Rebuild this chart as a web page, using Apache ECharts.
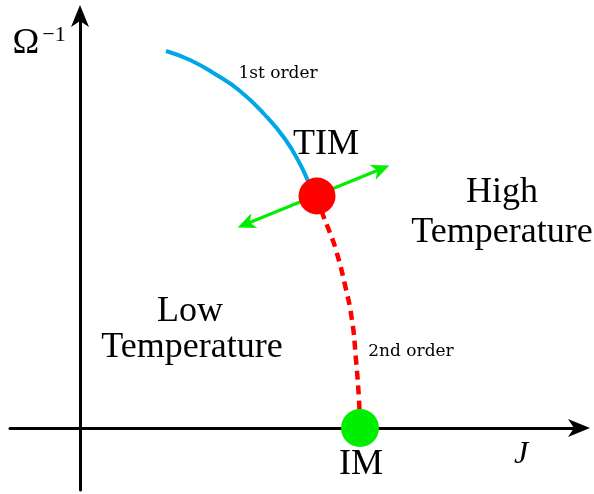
<!DOCTYPE html>
<html>
<head>
<meta charset="utf-8">
<script src="https://cdn.jsdelivr.net/npm/echarts@6/dist/echarts.min.js"></script>
<style>html,body{margin:0;padding:0;background:#fff;}#c{width:594px;height:494px;}</style>
</head>
<body>
<div id="c"></div>
<script>
// Phase boundary lines (J, 1/Omega) in arbitrary units
var firstOrderLine = [[8.6,37.7],[11.0,36.8],[13.5,35.4],[16.0,33.7],[18.5,31.3],[20.5,28.9],[22.0,26.4],[23.0,24.3],[23.4,23.6]];
var secondOrderLine = [[23.7,23.2],[24.3,21.3],[25.0,19.5],[25.6,17.8],[26.5,14.3],[27.2,10.8],[27.6,6.8],[27.9,2.8],[28.0,0]];
var timPoint = [23.7, 23.2];
var imPoint = [28.0, 0];
var flowArrow = [[16.6, 20.4], [30.1, 25.9]];
// annotation texts and anchor positions
var bigLabels = [
  {name:'TIM', value:[24.6, 28.3]},
  {name:'High', value:[42.2, 23.5]},
  {name:'Temperature', value:[42.2, 19.5]},
  {name:'Low', value:[11.0, 11.6]},
  {name:'Temperature', value:[11.2, 8.0]},
  {name:'IM', value:[28.1, -3.7]},
  {name:'Ω', value:[-5.4, 38.45]}
];
var smallLabels = [
  {name:'1st order', value:[19.8, 35.4]},
  {name:'2nd order', value:[33.1, 7.6]}
];
var supLabels = [{name:'−1', value:[-2.6, 39.3]}];
var italicLabels = [{name:'J', value:[44.1, -2.7]}];

var arrowPath = 'path://M9,0 L18,22 L9,16 L0,22 Z';
var smallArrow = 'path://M8,0 L16,18 L8,13 L0,18 Z';

var chart = echarts.init(document.getElementById('c'), null, {renderer:'canvas'});
function labelSeries(data, font, size, style){
  return {
    type:'scatter', data:data, symbolSize:0, z:10, silent:true,
    itemStyle:{color:'#000'},
    label:{show:true, position:'inside', formatter:'{b}', color:'#000000', opacity:1,
      textBorderWidth:0, textShadowBlur:0,
      fontFamily:font, fontSize:size, fontStyle:style||'normal', align:'center', verticalAlign:'middle'}
  };
}
chart.setOption({
  animation:false,
  backgroundColor:'#fff',
  grid:{left:10, right:15, top:16, bottom:4, containLabel:false},
  xAxis:{type:'value', min:-7, max:49.9, axisLabel:{show:false}, axisTick:{show:false}, splitLine:{show:false},
    axisLine:{show:true, onZero:true, lineStyle:{color:'#000', width:3}, symbol:['none', arrowPath], symbolSize:[18,22]}},
  yAxis:{type:'value', min:-6.2, max:41.2, axisLabel:{show:false}, axisTick:{show:false}, splitLine:{show:false},
    axisLine:{show:true, onZero:true, lineStyle:{color:'#000', width:3}, symbol:['none', arrowPath], symbolSize:[18,22]}},
  series:[
    {type:'line', data:firstOrderLine, smooth:true, showSymbol:false, symbol:'none', z:3,
      lineStyle:{color:'#00A6E6', width:4}},
    {type:'line', data:secondOrderLine, smooth:true, showSymbol:false, symbol:'none', z:3,
      lineStyle:{color:'#FF0000', width:4.5, type:[9,6]}},
    {type:'line', data:[], z:4,
      markLine:{silent:true, symbol:[smallArrow, smallArrow], symbolSize:[16,18],
        lineStyle:{color:'#00EE00', width:3, type:'solid'}, label:{show:false},
        data:[[{coord:flowArrow[0]},{coord:flowArrow[1]}]]}},
    {type:'scatter', data:[timPoint], symbolSize:37, z:6, itemStyle:{color:'#FF0000', opacity:1}},
    {type:'scatter', data:[imPoint], symbolSize:38, z:6, itemStyle:{color:'#00EE00', opacity:1}},
    labelSeries(bigLabels, 'Liberation Serif', 36),
    labelSeries(smallLabels, 'DejaVu Serif', 17),
    labelSeries(supLabels, 'Liberation Serif', 22),
    labelSeries(italicLabels, 'Liberation Serif', 32, 'italic')
  ]
});
</script>
</body>
</html>
